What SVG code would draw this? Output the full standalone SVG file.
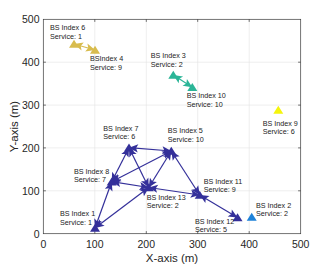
<svg xmlns="http://www.w3.org/2000/svg" width="332" height="266" viewBox="0 0 332 266">
<style>
.grid{stroke:#e3e3e3;stroke-width:0.6;fill:none}
.axis{stroke:#3a3a3a;stroke-width:0.7;fill:none}
.tick{font-family:"Liberation Sans",Arial,sans-serif;font-size:10.5px;fill:#262626}
.lbl{font-family:"Liberation Sans",Arial,sans-serif;font-size:11.5px;fill:#262626}
.nl{font-family:"Liberation Sans",Arial,sans-serif;font-size:7.2px;fill:#222}
.e{stroke-width:1.2;fill:none;marker-start:url(#ah);marker-end:url(#ah)}
.navy{stroke:#34309A;fill:#34309A;color:#34309A}
.gold{stroke:#D8BC4E;fill:#D8BC4E;color:#D8BC4E}
.teal{stroke:#2BB597;fill:#2BB597;color:#2BB597}
</style>
<defs>
<marker id="ah" markerUnits="userSpaceOnUse" markerWidth="11" markerHeight="10" viewBox="-9 -4.5 10 9" refX="0" refY="0" orient="auto-start-reverse">
<path d="M0,0 L-8.2,-3.7 L-6.4,0 L-8.2,3.7 Z" fill="context-stroke" stroke="none"/>
</marker>
<polygon id="tri" points="0,-4.3 5,3.7 -5,3.7"/>
</defs>
<rect width="332" height="266" fill="#ffffff"/>
<g id="axes">
<path class="grid" d="M94.8,19.3V233.7M146.3,19.3V233.7M197.7,19.3V233.7M249.2,19.3V233.7M43.3,62.2H300.7M43.3,105.1H300.7M43.3,147.9H300.7M43.3,190.8H300.7"/>
<rect class="axis" x="43.3" y="19.3" width="257.4" height="214.4"/>
<path class="axis" d="M94.8,233.7v-2.6M146.3,233.7v-2.6M197.7,233.7v-2.6M249.2,233.7v-2.6M94.8,19.3v2.6M146.3,19.3v2.6M197.7,19.3v2.6M249.2,19.3v2.6M43.3,62.2h2.6M43.3,105.1h2.6M43.3,147.9h2.6M43.3,190.8h2.6M300.7,62.2h-2.6M300.7,105.1h-2.6M300.7,147.9h-2.6M300.7,190.8h-2.6"/>
<g class="tick" text-anchor="end">
<text x="39.5" y="23.1">500</text>
<text x="39.5" y="66">400</text>
<text x="39.5" y="108.9">300</text>
<text x="39.5" y="151.7">200</text>
<text x="39.5" y="194.6">100</text>
<text x="39.5" y="237.5">0</text>
</g>
<g class="tick" text-anchor="middle">
<text x="43.3" y="248">0</text>
<text x="94.8" y="248">100</text>
<text x="146.3" y="248">200</text>
<text x="197.7" y="248">300</text>
<text x="249.2" y="248">400</text>
<text x="300.7" y="248">500</text>
</g>
<text class="lbl" x="172" y="262" text-anchor="middle">X-axis (m)</text>
<text class="lbl" transform="translate(17.5,126.5) rotate(-90)" text-anchor="middle">Y-axis (m)</text>
</g>
<g id="connectors">
<line class="e gold" x1="74" y1="44" x2="95" y2="50"/>
<line class="e teal" x1="173.3" y1="75" x2="192.3" y2="87.3"/>
<line class="e navy" x1="95" y1="228" x2="111.7" y2="181.7"/>
<line class="e navy" x1="95" y1="228" x2="148.7" y2="187.5"/>
<line class="e navy" x1="111.7" y1="181.7" x2="129" y2="147.7"/>
<line class="e navy" x1="111.7" y1="181.7" x2="171.3" y2="151"/>
<line class="e navy" x1="111.7" y1="181.7" x2="148.7" y2="187.5"/>
<line class="e navy" x1="129" y1="147.7" x2="171.3" y2="151"/>
<line class="e navy" x1="129" y1="147.7" x2="148.7" y2="187.5"/>
<line class="e navy" x1="171.3" y1="151" x2="148.7" y2="187.5"/>
<line class="e navy" x1="171.3" y1="151" x2="199.7" y2="195"/>
<line class="e navy" x1="148.7" y1="187.5" x2="199.7" y2="195"/>
<line class="e navy" x1="199.7" y1="195" x2="237.5" y2="217.5"/>
</g>
<g id="bs6"><use href="#tri" x="74" y="44" fill="#D8BC4E"/><text class="nl" x="50" y="30">BS Index 6<tspan x="50" dy="8.5">Service: 1</tspan></text></g>
<g id="bs4"><use href="#tri" x="95" y="50" fill="#D8BC4E"/><text class="nl" x="90" y="61">BSIndex 4<tspan x="90" dy="8.5">Service: 9</tspan></text></g>
<g id="bs3"><use href="#tri" x="173.3" y="75" fill="#2BB597"/><text class="nl" x="150.7" y="58.3">BS Index 3<tspan x="150.7" dy="8.5">Service: 2</tspan></text></g>
<g id="bs10"><use href="#tri" x="192.3" y="87.3" fill="#2BB597"/><text class="nl" x="186.7" y="98.3">BS Index 10<tspan x="186.7" dy="8.5">Service: 10</tspan></text></g>
<g id="bs9"><use href="#tri" x="278.3" y="110" fill="#F5F50C"/><text class="nl" x="262.7" y="125.5">BS Index 9<tspan x="262.7" dy="8.5">Service: 6</tspan></text></g>
<g id="bs7"><use href="#tri" x="129" y="147.7" fill="#34309A"/><text class="nl" x="103.3" y="130.7">BS Index 7<tspan x="103.3" dy="8.5">Service: 6</tspan></text></g>
<g id="bs5"><use href="#tri" x="171.3" y="151" fill="#34309A"/><text class="nl" x="167.7" y="133.3">BS Index 5<tspan x="167.7" dy="8.5">Service: 10</tspan></text></g>
<g id="bs8"><use href="#tri" x="111.7" y="181.7" fill="#34309A"/><text class="nl" x="74" y="173.7">BS Index 8<tspan x="74" dy="8.5">Service: 7</tspan></text></g>
<g id="bs13"><use href="#tri" x="148.7" y="187.5" fill="#34309A"/><text class="nl" x="146.7" y="199.7">BS Index 13<tspan x="146.7" dy="8.5">Service: 2</tspan></text></g>
<g id="bs11"><use href="#tri" x="199.7" y="195" fill="#34309A"/><text class="nl" x="203.7" y="183.7">BS Index 11<tspan x="203.7" dy="8.5">Service: 9</tspan></text></g>
<g id="bs12"><use href="#tri" x="237.5" y="217.5" fill="#34309A"/><text class="nl" x="195" y="223.7">BS Index 12<tspan x="195" dy="8.5">Service: 5</tspan></text></g>
<g id="bs2"><use href="#tri" x="251.7" y="217" fill="#1E82D9"/><text class="nl" x="256" y="207.7">BS Index 2<tspan x="256" dy="8.5">Service: 2</tspan></text></g>
<g id="bs1"><use href="#tri" x="95" y="228" fill="#34309A"/><text class="nl" x="60" y="216.3">BS Index 1<tspan x="60" dy="8.5">Service: 1</tspan></text></g>
</svg>
